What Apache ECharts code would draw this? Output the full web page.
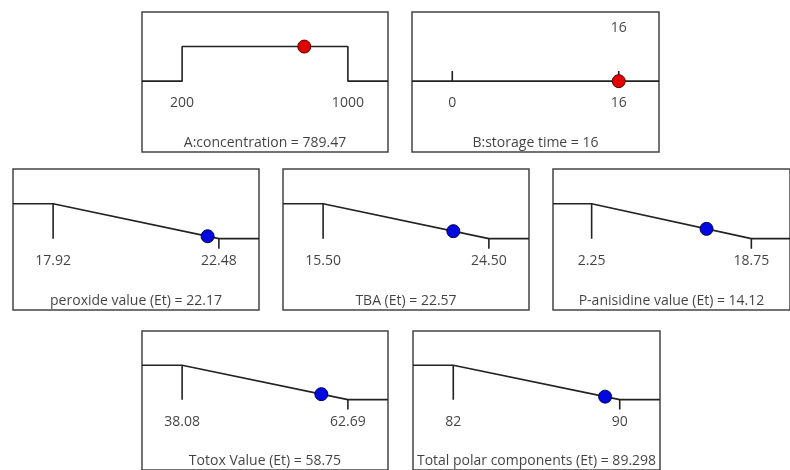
<!DOCTYPE html>
<html>
<head>
<meta charset="utf-8">
<script src="https://cdn.jsdelivr.net/npm/echarts@6/dist/echarts.min.js"></script>
<style>
html,body{margin:0;padding:0;background:#fff;}
#chart{width:790px;height:470px;}
</style>
</head>
<body>
<div id="chart"></div>
<script>
// ---- data ----
const factorNames = ['A:concentration', 'B:storage time'];
const factorLow = [200, 0];
const factorHigh = [1000, 16];
const factorValue = [789.47, 16];
const factorLowText = ['200', '0'];
const factorHighText = ['1000', '16'];
const factorValueText = ['789.47', '16'];
const factorGoal = ['range', 'equal'];

const responseNames = ['peroxide value (Et)', 'TBA (Et)', 'P-anisidine value (Et)', 'Totox Value (Et)', 'Total polar components (Et)'];
const responseLow = [17.92, 15.50, 2.25, 38.08, 82];
const responseHigh = [22.48, 24.50, 18.75, 62.69, 90];
const responseValue = [22.17, 22.57, 14.12, 58.75, 89.298];
const responseLowText = ['17.92', '15.50', '2.25', '38.08', '82'];
const responseHighText = ['22.48', '24.50', '18.75', '62.69', '90'];
const responseValueText = ['22.17', '22.57', '14.12', '58.75', '89.298'];

// ---- layout ----
const layouts = [
  {left: 142, top: 12, width: 246, height: 140},
  {left: 412, top: 12, width: 247, height: 140},
  {left: 13, top: 169, width: 246, height: 141},
  {left: 283, top: 169, width: 246, height: 141},
  {left: 553, top: 169, width: 246, height: 141},
  {left: 142, top: 331, width: 246, height: 142},
  {left: 413, top: 331, width: 247, height: 142}
];
const PAD = 0.242;
const Y_MIN = -2.05, Y_MAX = 2.0;
const Y_LABEL = -0.64, Y_TITLE = -1.8, Y_GOAL = 1.53, TICK = 0.29;

const FONT = {fontFamily: 'Open Sans', fontSize: 14, color: '#111111'};
const lineStyle = {color: '#222222', width: 1.6};

const panels = [];
for (let i = 0; i < factorNames.length; i++) {
  panels.push({kind: factorGoal[i], name: factorNames[i], low: factorLow[i], high: factorHigh[i],
    value: factorValue[i], lowText: factorLowText[i], highText: factorHighText[i], valueText: factorValueText[i], color: '#e00000', border: '#5a0000'});
}
for (let i = 0; i < responseNames.length; i++) {
  panels.push({kind: 'minimize', name: responseNames[i], low: responseLow[i], high: responseHigh[i],
    value: responseValue[i], lowText: responseLowText[i], highText: responseHighText[i], valueText: responseValueText[i], color: '#0008e0', border: '#000050'});
}

const grid = [], xAxis = [], yAxis = [], series = [];
panels.forEach((p, i) => {
  const range = p.high - p.low;
  const xmin = p.low - PAD * range, xmax = p.high + PAD * range;
  grid.push(Object.assign({show: true, borderColor: '#444444', borderWidth: 1.5, backgroundColor: 'transparent', containLabel: false}, layouts[i]));
  xAxis.push({type: 'value', gridIndex: i, min: xmin, max: xmax, show: false});
  yAxis.push({type: 'value', gridIndex: i, min: Y_MIN, max: Y_MAX, show: false});
  const lines = [];
  let d = 0;
  if (p.kind === 'range') {
    lines.push([[xmin, 0], [p.low, 0], [p.low, 1], [p.high, 1], [p.high, 0], [xmax, 0]]);
    d = 1;
  } else if (p.kind === 'equal') {
    lines.push([[xmin, 0], [xmax, 0]]);
    lines.push([[p.low, 0], [p.low, TICK]]);
    lines.push([[p.high, 0], [p.high, TICK]]);
    d = 0;
  } else {
    lines.push([[xmin, 1], [p.low, 1], [p.high, 0], [xmax, 0]]);
    lines.push([[p.low, 1], [p.low, 0]]);
    lines.push([[p.high, 0], [p.high, -TICK]]);
    d = Math.max(0, Math.min(1, (p.high - p.value) / range));
  }
  lines.forEach(pts => {
    series.push({type: 'line', xAxisIndex: i, yAxisIndex: i, data: pts, showSymbol: false, symbol: 'none',
      lineStyle: lineStyle, silent: true, animation: false, z: 2});
  });
  const labels = [
    {value: [p.low, Y_LABEL], text: p.lowText},
    {value: [p.high, Y_LABEL], text: p.highText},
    {value: [(xmin + xmax) / 2, Y_TITLE], text: p.name + ' = ' + p.valueText}
  ];
  if (p.kind === 'equal') labels.push({value: [p.value, Y_GOAL], text: p.valueText});
  series.push({type: 'scatter', xAxisIndex: i, yAxisIndex: i, symbolSize: 0, silent: true, animation: false,
    data: labels.map(l => ({value: l.value, name: l.text})),
    label: Object.assign({show: true, position: 'inside', formatter: q => q.name, align: 'center', verticalAlign: 'middle'}, FONT)});
  series.push({type: 'scatter', xAxisIndex: i, yAxisIndex: i, symbol: 'circle', symbolSize: 13, silent: true, animation: false, z: 5,
    data: [[p.value, d]], itemStyle: {color: p.color, borderColor: p.border, borderWidth: 1, opacity: 1}});
});

const chart = echarts.init(document.getElementById('chart'), null, {renderer: 'canvas'});
chart.setOption({backgroundColor: '#ffffff', animation: false, grid, xAxis, yAxis, series});
</script>
</body>
</html>
